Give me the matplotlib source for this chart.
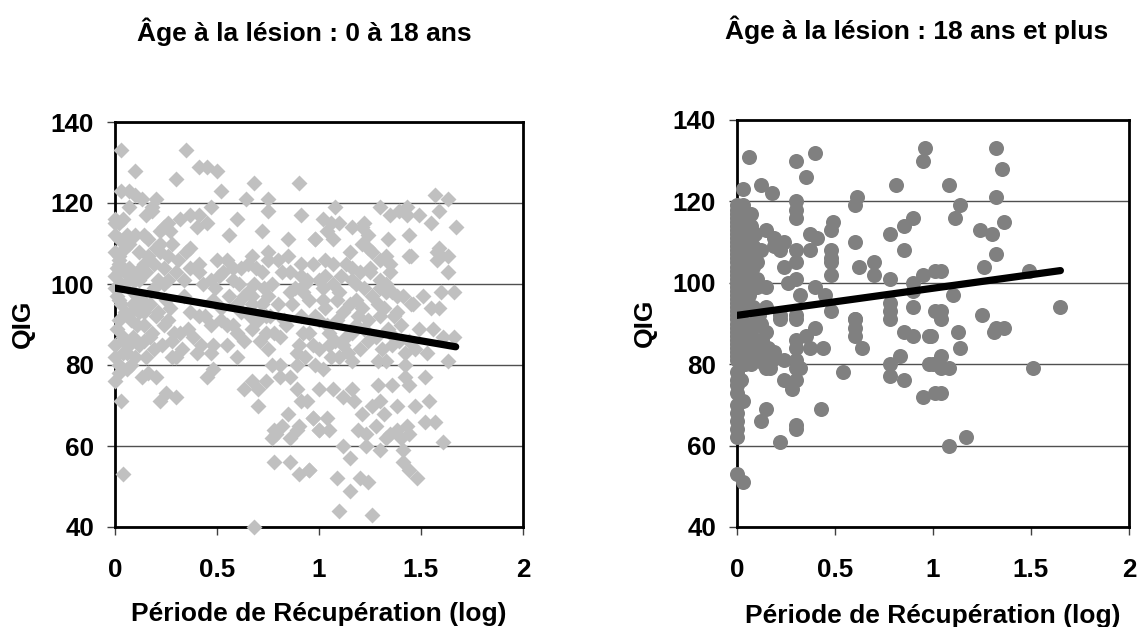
import matplotlib
matplotlib.use("Agg")
import matplotlib.pyplot as plt

plt.rcParams["font.family"] = ["Liberation Sans", "DejaVu Sans"]
plt.rcParams["font.weight"] = "bold"

# left panel: 0-18 ans
left_x = [
    .03, .35, .10, .41, .45, .50, .30, .52, .68, .90, .03, .07,
    .10, .13, .20, .64, .75, .07, .47, .75, .18, .18, .15, 0,
    .04, 0, .02, .91, .60, .32, .37, .41, .45, .40, .26, .24,
    .22, .27, .56, .72, .85, .98, 0, .10, .14, .02, .22, .20,
    .37, .07, .02, .12, .16, .26, .50, .55, .67, .75, .85, .80,
    .91, .41, .37, .41, .58, .62, .65, .69, .75, .19, .14, .02,
    .07, .11, .15, .24, .26, .02, .07, .10, .86, .91, .94, .47,
    .51, .61, .49, .65, .73, .67, .75, .86, .92, 0, .02, .05,
    1.57, 1.63, 1.08, 1.30, 1.43, 1.59, 1.39, 1.35, 1.43, 1.49, 1.02, 1.06,
    1.10, 1.16, 1.22, 1.21, 1.55, 1.67, 1.04, .98, 1.07, 1.24, 1.21, 1.44,
    1.34, 1.15, 1.24, 1.26, 1.59, 1.58, 1.63, 1.58, 1.44, 1.45, 1.03, 1.07,
    1.13, 1.16, 1.33, 1.30, 1.25, 1.35, 1.35, 1.63, 1.16, 1.03, 1.00, 1.30,
    1.30, 1.33, 1.36, 1.38, 1.60, 1.66, 1.51, 1.46, 1.55, 1.59, 1.18, 1.22,
    .68, .04, .78, .86, .90, .95, .03, .22, .25, .30, .70, .63,
    .67, .70, .74, .89, .91, .94, .85, .97, 1.0, .82, .78, .77,
    .79, .89, .86, .90, 0, .02, .06, .13, .16, .20, .45, .48,
    .81, .86, 0, .02, .10, .15, .30, .40, .47, .60, .77, .81,
    .89, .93, .98, .01, .04, .09, .14, .17, .19, .07, .28, .32,
    .36, .38, .48, .55, .58, .63, .67, .75, .74, .81, .92, .89,
    1.10, 1.26, 1.15, 1.09, 1.20, 1.24, 1.48, 1.44, 1.41, 1.41, .95, 1.15,
    1.12, 1.23, 1.30, 1.61, 1.52, 1.57, 1.04, .97, 1.0, 1.05, 1.19, 1.23,
    1.28, 1.33, 1.35, 1.38, 1.43, 1.44, 1.40, 1.32, 1.21, 1.17, 1.26, 1.30,
    1.38, 1.47, 1.54, 1.07, 1.12, 1.16, 1.29, 1.36, 1.44, 1.52, 1.42, 1.00,
    1.63, 1.16, 1.29, 1.33, 1.42, 1.47, 1.53, 1.66, 1.61, 1.56, 1.49, 1.02,
    1.00, 1.04, 1.08, 1.12, 1.16, 1.20, 1.24, 1.28, 1.32, 1.36, 1.40, 1.44,
    1.02, 1.06, 1.10, 1.14, 1.18, 1.22, 1.26, 1.30, 1.34, 1.38, 1.42, .98,
    .72, .76, .80, .83, .87, .91, .95, .97, 1.03, 1.09, 1.13, 1.19,
    0, .01, .03, .05, .08, .02, .04, 0, .06, .09, .12, .05,
    .13, .17, .20, .24, .29, .34, .44, .52, .60, .67, .47, .37,
    .28, .23, .33, .42, .55, .56, .62, .70, .43, .30, .21, .11,
    .01, .03, .06, .09, .12, .16, .19, .22, .25, .28, .31, .34,
    .00, .02, .05, .08, .11, .14, .18, .21, .24, .27, .12, .08,
    .04, .14, .26, .35, .41, .48, .53, .58, .63, .68, .72, .77,
    .82, .88, .93, .97, 1.02, 1.07, 1.11, 1.15, 1.2, 1.25, 1.29, 1.33,
    1.37, 1.41, 1.45, 1.12, 1.18, 1.24, 1.31, 1.35, 1.39, 1.05, 1.09, 1.21,
    .84, .90, .95, 1.0, 1.05, 1.1, .78, .74, .71, .66, .60, .52,
]
left_y = [
    133, 133, 128, 129, 129, 128, 126, 123, 125, 125, 123, 123,
    122, 121, 121, 121, 121, 119, 119, 118, 119, 118, 117, 116,
    116, 115, 115, 117, 116, 116, 117, 117, 115, 114, 115, 114,
    113, 113, 112, 113, 111, 111, 112, 112, 112, 111, 110, 109,
    109, 110, 107, 108, 107, 107, 106, 106, 107, 108, 107, 106,
    105, 105, 104, 103, 104, 104, 105, 104, 106, 105, 105, 105,
    104, 103, 103, 104, 101, 103, 102, 101, 103, 102, 101, 101,
    102, 100, 99, 98, 99, 97, 97, 98, 98, 108, 106, 109,
    122, 121, 119, 119, 119, 118, 118, 117, 117, 117, 116, 115,
    115, 114, 115, 114, 115, 114, 113, 111, 111, 112, 110, 112,
    111, 108, 109, 108, 109, 108, 107, 106, 107, 107, 106, 105,
    105, 104, 107, 106, 104, 105, 103, 103, 101, 102, 101, 101,
    99, 100, 98, 97, 98, 98, 97, 95, 94, 94, 100, 99,
    40, 53, 56, 56, 53, 54, 71, 71, 73, 72, 70, 74,
    76, 74, 76, 74, 71, 71, 68, 67, 64, 65, 64, 62,
    63, 64, 62, 65, 76, 78, 79, 77, 78, 77, 77, 79,
    77, 77, 82, 80, 82, 82, 82, 83, 83, 82, 80, 80,
    80, 82, 80, 89, 87, 87, 90, 87, 84, 85, 86, 88,
    89, 87, 85, 85, 90, 86, 89, 84, 88, 87, 88, 83,
    44, 43, 49, 52, 52, 51, 52, 54, 56, 59, 54, 57,
    60, 60, 59, 61, 66, 66, 67, 67, 64, 64, 64, 63,
    65, 62, 63, 64, 65, 63, 62, 68, 68, 71, 70, 71,
    70, 70, 71, 74, 72, 74, 75, 75, 75, 77, 77, 74,
    81, 81, 81, 81, 80, 84, 83, 87, 87, 89, 89, 79,
    84, 90, 86, 93, 88, 84, 91, 87, 94, 85, 90, 86,
    96, 82, 98, 83, 96, 89, 97, 92, 89, 93, 83, 92,
    95, 92, 95, 91, 95, 92, 96, 85, 94, 91, 87, 92,
    99, 97, 95, 93, 91, 91, 86, 85, 83, 95, 93, 100,
    96, 95, 92, 100, 88, 97, 92, 94, 95, 95, 90, 93,
    82, 85, 84, 85, 90, 97, 93, 91, 100, 103, 101, 97,
    104, 100, 112, 98, 101, 111, 99, 108, 96, 110, 106, 101,
    102, 96, 86, 93, 90, 93, 88, 93, 90, 94, 85, 80,
    83, 86, 91, 108, 92, 96, 103, 101, 97, 100, 103, 100,
    103, 99, 100, 105, 99, 100, 102, 95, 103, 103, 95, 98,
    92, 97, 95, 85, 90, 86, 84, 88, 86, 88, 96, 94,
    90, 85, 88, 91, 85, 82, 88, 92, 86, 92, 88, 91,
]

# right panel: 18 ans et plus
right_x = [
    .06, .30, .40, .35, .96, .95, .81, .03, .12, .18, .30, .30,
    .30, .61, .60, 0, .03, .03, .07, 0, .15, .19, .24, .22,
    .19, .30, .30, .24, .37, .41, .37, .49, .48, .48, .48, .48,
    .48, .60, .62, .70, .70, .78, .85, .90, .85, .78, .90, .95,
    1.01, .30, .26, .15, .40, .32, .45, .15, .48, .22, .30, .60,
    .78, .78, .90, .90, 1.01, .09, .12, .10, .10, .04, .03, 0,
    0, 0, 0, 0, 0, 0, 0, 0, 0, 0, 0, 0,
    0, 0, 0, 0, 0, 0, 0, 0, 0, 0, 0, 0,
    0, 0, 0, 0, 0, 0, 0, 0, 0, 0, 0, 0,
    .02, .03, .05, .02, .04, .06, .02, .03, .05, .02, .04, .07,
    .02, .05, .08, .03, .06, .09, .02, .04, .07, .10, .12, .05,
    0, .03, 0, 0, 0, 0, 0, .03, 0, 0, 0, 0,
    .22, .30, .30, .12, .15, .43, .54, .95, 1.01, .85, .78, .78,
    .83, .98, .28, .30, .24, .32, .30, .24, .18, .19, .15, .30,
    .37, .44, .64, .30, .35, .40, .60, .60, .60, .85, .90, .98,
    .78, .22, .30, .10, .15, 1.32, 1.35, 1.08, 1.32, 1.14, 1.11, 1.36,
    1.24, 1.30, 1.32, 1.26, 1.04, 1.49, 1.65, 1.10, 1.04, 1.04, 1.25, 1.36,
    1.32, 1.31, 1.13, .99, 1.14, 1.04, 1.04, 1.08, 1.00, 1.51, 1.04, 1.17,
    1.08, .15, .30,
    .05, .07, .09, .05, .08, .10, .06, .08, .11, .07, .05, .09,
    .13, .16, .18, .12, .14, .02, .04, .06, .08, .04, .02, .17,
]
right_y = [
    131, 130, 132, 126, 133, 130, 124, 123, 124, 122, 120, 118,
    116, 121, 119, 119, 119, 117, 117, 116, 113, 111, 110, 108,
    109, 108, 105, 104, 112, 111, 108, 115, 113, 108, 106, 105,
    102, 110, 104, 105, 102, 112, 114, 116, 108, 101, 100, 102,
    103, 101, 100, 99, 99, 97, 97, 94, 93, 92, 92, 91,
    95, 93, 94, 98, 93, 108, 108, 105, 101, 96, 94, 118,
    117, 115, 114, 113, 112, 111, 110, 109, 108, 107, 106, 105,
    104, 103, 102, 101, 100, 99, 98, 97, 96, 95, 94, 93,
    92, 91, 90, 89, 88, 87, 86, 85, 84, 83, 82, 81,
    113, 110, 108, 106, 104, 102, 100, 98, 96, 92, 90, 88,
    86, 85, 84, 83, 82, 82, 81, 80, 80, 81, 83, 111,
    53, 51, 62, 64, 66, 68, 70, 71, 73, 75, 76, 78,
    61, 65, 64, 66, 69, 69, 78, 72, 73, 76, 77, 80,
    82, 80, 74, 76, 76, 79, 81, 81, 81, 83, 84, 84,
    84, 84, 84, 86, 87, 89, 87, 89, 91, 88, 87, 87,
    91, 91, 91, 90, 88, 133, 128, 124, 121, 119, 116, 115,
    113, 112, 107, 104, 103, 103, 94, 97, 93, 91, 92, 89,
    89, 88, 88, 87, 84, 82, 79, 79, 80, 79, 73, 62,
    60, 79, 79,
    116, 114, 112, 107, 104, 99, 97, 94, 92, 90, 88, 86,
    86, 84, 82, 90, 80, 118, 115, 111, 109, 100, 76, 79,
]

left_trend_x = [0, 1.67]
left_trend_y = [99, 84.5]
right_trend_x = [0, 1.65]
right_trend_y = [92, 103]

x_ticks = [0, 0.5, 1, 1.5, 2]
x_labels = ["0", "0.5", "1", "1.5", "2"]
y_ticks = [40, 60, 80, 100, 120, 140]

W, H = 1138, 627
fig = plt.figure(figsize=(W / 100, H / 100), dpi=100)


def panel(box, xs, ys, tx, ty, marker, size, color):
    l, t, r, b = box
    ax = fig.add_axes([l / W, 1 - b / H, (r - l) / W, (b - t) / H])
    ax.set_xlim(0, 2)
    ax.set_ylim(40, 140)
    ax.set_xticks(x_ticks)
    ax.set_xticklabels(x_labels)
    ax.set_yticks(y_ticks)
    ax.tick_params(labelsize=18.7, length=6, width=1, color="#404040")
    ax.tick_params(axis="x", pad=16.5)
    ax.tick_params(axis="y", pad=9)
    ax.grid(axis="y", color="#505050", lw=1)
    ax.set_axisbelow(True)
    for s in ax.spines.values():
        s.set_linewidth(2)
        s.set_zorder(1.5)
    ax.scatter(xs, ys, marker=marker, s=size, color=color, lw=0, clip_on=False, zorder=3)
    ax.plot(tx, ty, color="black", lw=5.2, solid_capstyle="round", zorder=4)
    return ax


panel((115, 122, 523, 527), left_x, left_y, left_trend_x, left_trend_y, "D", 66, "#C0C0C0")
panel((737, 120, 1129, 527), right_x, right_y, right_trend_x, right_trend_y, "o", 117, "#808080")

fig.text(304 / W, 1 - 32 / H, "Âge à la lésion : 0 à 18 ans", ha="center", va="center", fontsize=19)
fig.text(917 / W, 1 - 30 / H, "Âge à la lésion : 18 ans et plus", ha="center", va="center", fontsize=19)
fig.text(318.5 / W, 1 - 614 / H, "Période de Récupération (log)", ha="center", va="center", fontsize=19)
fig.text(933 / W, 1 - 616 / H, "Période de Récupération (log)", ha="center", va="center", fontsize=19)
fig.text(23 / W, 1 - 324 / H, "QIG", rotation=90, ha="center", va="center", fontsize=19)
fig.text(645 / W, 1 - 323 / H, "QIG", rotation=90, ha="center", va="center", fontsize=19)

fig.savefig("out.png", dpi=100)
